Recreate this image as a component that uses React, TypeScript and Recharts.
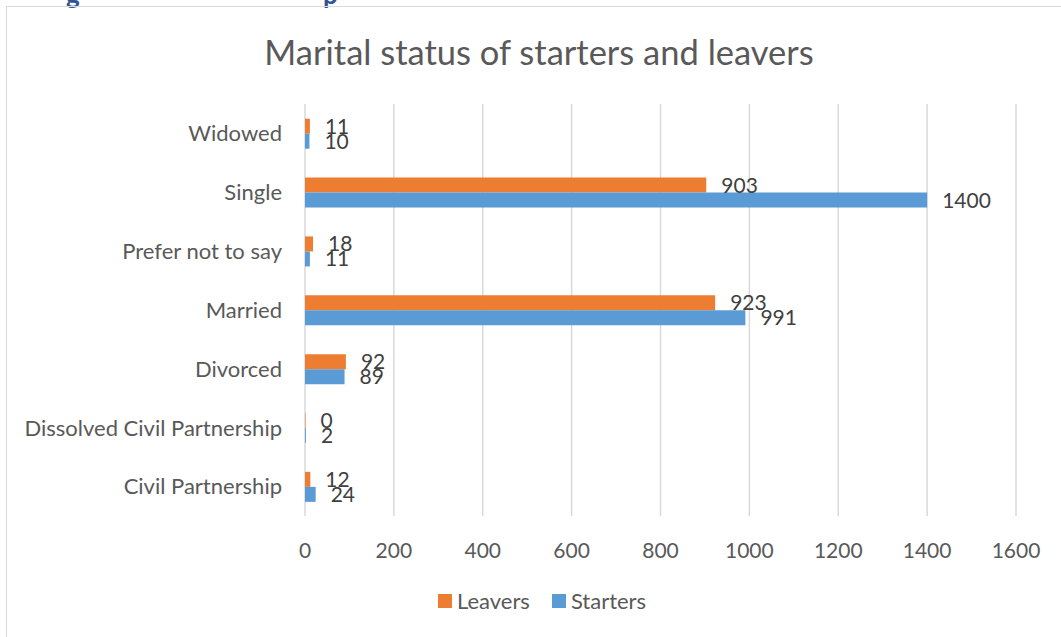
import { BarChart, Bar, XAxis, YAxis, CartesianGrid, Legend, LabelList } from 'recharts'

const categories = [
  'Widowed',
  'Single',
  'Prefer not to say',
  'Married',
  'Divorced',
  'Dissolved Civil Partnership',
  'Civil Partnership',
]
const leavers = [11, 903, 18, 923, 92, 0, 12]
const starters = [10, 1400, 11, 991, 89, 2, 24]
const xTicks = [0, 200, 400, 600, 800, 1000, 1200, 1400, 1600]

const data = categories.map((name, i) => ({ name, Leavers: leavers[i], Starters: starters[i] }))

const font = 'Lato, "Noto Sans", sans-serif'

const LegendContent = ({ payload }: any) => (
  <div style={{ display: 'flex', justifyContent: 'center', gap: 22, fontSize: 22, fontFamily: font, color: '#595959' }}>
    {(payload || []).map((p: any) => (
      <div key={p.value} style={{ display: 'flex', alignItems: 'center' }}>
        <span style={{ width: 14, height: 14, background: p.color, marginRight: 5, display: 'inline-block' }} />
        <span>{p.value}</span>
      </div>
    ))}
  </div>
)

export default function App() {
  return (
    <div
      style={{
        position: 'fixed',
        top: 0,
        left: 0,
        width: 1061,
        height: 637,
        overflow: 'hidden',
        background: '#fff',
        fontFamily: font,
      }}
    >
      {/* cut-off heading from the page above the chart */}
      <span style={{ position: 'absolute', left: 66, top: -22, fontSize: 26, fontWeight: 700, color: '#2f5496' }}>g</span>
      <span style={{ position: 'absolute', left: 323, top: -22, fontSize: 26, fontWeight: 700, color: '#2f5496' }}>p</span>
      <div
        style={{
          position: 'absolute',
          left: 6,
          top: 6,
          width: 1100,
          height: 700,
          border: '1px solid #d9d9d9',
        }}
      />
      <div
        style={{
          position: 'absolute',
          top: 31,
          left: 0,
          width: 1078,
          textAlign: 'center',
          fontSize: 34.5,
          color: '#595959',
        }}
      >
        Marital status of starters and leavers
      </div>
      <div style={{ position: 'absolute', top: 0, left: 0 }}>
        <BarChart
          width={1061}
          height={637}
          data={data}
          layout="vertical"
          margin={{ top: 104, right: 45, left: 0, bottom: 54 }}
          barCategoryGap="25%"
          barGap={0}
        >
          <CartesianGrid horizontal={false} stroke="#d9d9d9" strokeWidth={1.5} />
          <XAxis
            type="number"
            domain={[0, 1600]}
            ticks={xTicks}
            axisLine={false}
            tickLine={false}
            tickSize={0}
            tickMargin={27}
            height={40}
            tick={{ fontSize: 21, fill: '#595959', fontFamily: font }}
          />
          <YAxis
            type="category"
            dataKey="name"
            width={305}
            axisLine={false}
            tickLine={false}
            tickSize={0}
            tickMargin={23}
            interval={0}
            tick={{ fontSize: 22, fill: '#595959', fontFamily: font }}
          />
          <Legend verticalAlign="bottom" wrapperStyle={{ top: 587, left: 0, width: 1084 }} content={LegendContent} />
          <Bar dataKey="Leavers" fill="#ed7d31" minPointSize={0.5} isAnimationActive={false}>
            <LabelList dataKey="Leavers" position="right" offset={15} fill="#404040" fontSize={21} fontFamily={font} />
          </Bar>
          <Bar dataKey="Starters" fill="#5b9bd5" isAnimationActive={false}>
            <LabelList dataKey="Starters" position="right" offset={15} fill="#404040" fontSize={21} fontFamily={font} />
          </Bar>
        </BarChart>
      </div>
    </div>
  )
}
